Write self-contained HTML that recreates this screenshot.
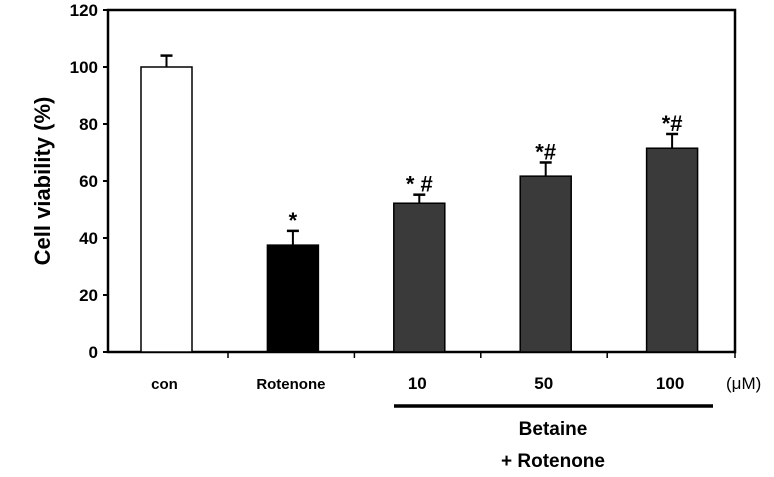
<!DOCTYPE html>
<html><head><meta charset="utf-8"><style>
body{margin:0;background:#fff}
svg text{font-family:"Liberation Sans",sans-serif;font-weight:bold;fill:#000}
</style></head><body>
<svg id="c" width="774" height="472"></svg>
<script>
const categories=["con","Rotenone","10","50","100"];
const values=[100,37.5,52.2,61.7,71.5];
const errors=[4,5,3,4.8,5];
const marks=["","*","* #","*#","*#"];
const fills=["#fff","#000","#3a3a3a","#3a3a3a","#3a3a3a"];
const yTicks=[0,20,40,60,80,100,120];
const X0=108,X1=735,Y0=352,Y1=10,YMAX=120;
const slot=126.4;
const y=v=>Y0-(v/YMAX)*(Y0-Y1);
const xc=i=>X0+58.5+slot*i;
const svg=document.getElementById('c');
const NS='http://www.w3.org/2000/svg';
function mk(t,a,txt){const e=document.createElementNS(NS,t);for(const k in a)e.setAttribute(k,a[k]);if(txt!==undefined)e.textContent=txt;svg.appendChild(e);return e;}
let e=mk('rect',{x:X0,y:Y1,width:X1-X0,height:Y0-Y1,fill:'none',stroke:'#000','stroke-width':2.5});


yTicks.forEach(t=>{
 let l=mk('line',{x1:X0-5,x2:X0,y1:y(t),y2:y(t),stroke:'#000','stroke-width':2});
 
 
 let tx=mk('text',{x:X0-10,y:y(t)+6,'text-anchor':'end','font-size':17},t);
 
 
});
for(let i=1;i<=categories.length;i++){
 const tx=i<categories.length?X0+120+slot*(i-1):X1;
 let l=mk('line',{x1:tx,x2:tx,y1:Y0,y2:Y0+6,stroke:'#000','stroke-width':1.5});
 
 
}
const bw=51;
values.forEach((v,i)=>{
 const cx=xc(i),top=y(v),et=y(v+errors[i]);
 let el=mk('line',{x1:cx,x2:cx,y1:top,y2:et,stroke:'#000','stroke-width':2});
 
 
 let ec=mk('line',{x1:cx-6,x2:cx+6,y1:et,y2:et,stroke:'#000','stroke-width':2.5});
 
 
 let r=mk('rect',{x:cx-bw/2,y:top,width:bw,height:Y0-top,fill:fills[i],stroke:'#000','stroke-width':1.5});
 
 
 if(marks[i]){
  let m=mk('text',{x:cx,y:et-3,'text-anchor':'middle','font-size':22},marks[i]);
  
  
 }
 let lb=mk('text',{x:cx-2,y:389,'text-anchor':'middle','font-size':i<2?15:17},categories[i]);
 
 
});
let u=mk('text',{x:726,y:389,'font-size':17,style:'font-weight:normal'},'(μM)');


let bl=mk('line',{x1:394,x2:713,y1:406,y2:406,stroke:'#000','stroke-width':3.5});


let b1=mk('text',{x:553,y:435,'text-anchor':'middle','font-size':19},'Betaine');


let b2=mk('text',{x:553,y:467,'text-anchor':'middle','font-size':19},'+ Rotenone');


let yt=mk('text',{x:0,y:0,'text-anchor':'middle','font-size':22,transform:'translate(50,181) rotate(-90)'},'Cell viability (%)');


</script>
</body></html>
